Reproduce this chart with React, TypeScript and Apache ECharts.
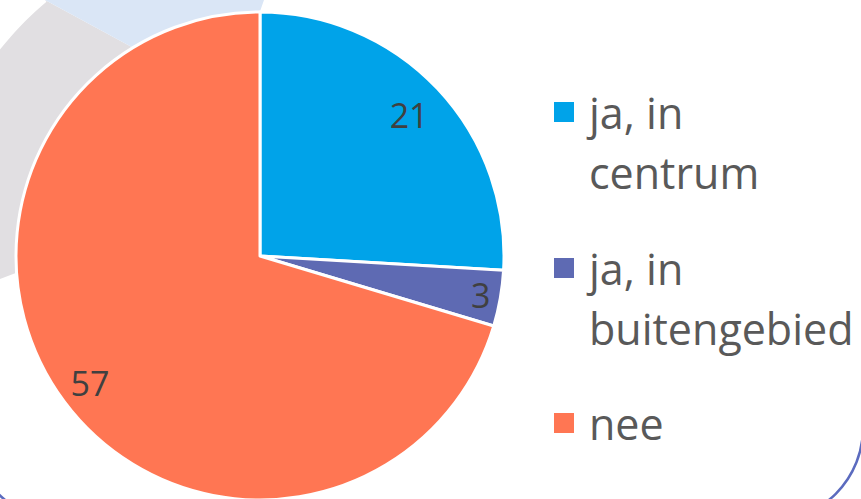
import React, { useEffect, useRef } from 'react';
import * as echarts from 'echarts';

const categories = ['ja, in centrum', 'ja, in buitengebied', 'nee'];
const values = [21, 3, 57];
const colors = ['#00a3e9', '#5e6ab3', '#ff7653'];
// inner/outer radius of the invisible ring on which each value label is centred
const labelRings: [number, number][] = [[160, 244], [198, 244], [174, 244]];
// top of each legend entry box
const legendTops = [22, 178, 393];

const CX = 260;
const CY = 256;
const R = 244;

function arcPoints(cx: number, cy: number, r: number, a0: number, a1: number, n: number) {
  const pts: number[][] = [];
  for (let i = 0; i <= n; i++) {
    const a = a0 + ((a1 - a0) * i) / n;
    pts.push([cx + r * Math.cos(a), cy + r * Math.sin(a)]);
  }
  return pts;
}

export default function App() {
  const ref = useRef<HTMLDivElement>(null);
  useEffect(() => {
    document.body.style.margin = '0';
    const chart = echarts.init(ref.current!, undefined, { renderer: 'svg' });

    // decorative background shapes
    const aStart = Math.atan2(0 - CY, 45 - CX);
    const grayArc = arcPoints(CX, CY, 332, aStart, -Math.PI, 40);
    const grayPoly = [...grayArc, [-80, 310], [0, 279], [200, 203], [200, 84], [45, 0]];
    const bluePoly = [[45, 0], [45, -20], [266, -20], [264, 0], [250, 40], [220, 110], [200, 84]];

    const labelSeries = labelRings.map((ring, i) => ({
      type: 'pie' as const,
      center: [CX, CY],
      radius: ring,
      startAngle: 90,
      clockwise: true,
      silent: true,
      z: 5,
      labelLine: { show: false },
      itemStyle: { color: 'transparent', borderWidth: 0 },
      data: categories.map((name, j) => ({
        name,
        value: values[j],
        label: { show: j === i },
      })),
      label: {
        position: 'inside',
        formatter: '{c}',
        fontSize: 34,
        fontFamily: 'Open Sans',
        color: '#404040',
      },
      emphasis: { disabled: true },
    }));

    const legends = categories.map((name, i) => ({
      orient: 'vertical',
      left: 552,
      top: legendTops[i],
      padding: 0,
      icon: 'rect',
      itemWidth: 22,
      itemHeight: 22,
      selectedMode: false,
      formatter: (n: string) => n.replace(/^(ja, in) (.*)$/, '\n$1\n$2'),
      data: [name],
      textStyle: {
        fontSize: 43,
        lineHeight: 60,
        color: '#595959',
        fontFamily: 'Open Sans',
        padding: [0, 0, 0, 9],
      },
    }));

    chart.setOption({
      animation: false,
      backgroundColor: '#ffffff',
      color: colors,
      graphic: [
        {
          type: 'rect',
          z: -10,
          shape: { x: -29, y: -200, width: 892, height: 721, r: 93 },
          style: { fill: 'none', stroke: '#5b6bbf', lineWidth: 2.5 },
          silent: true,
        },
        {
          type: 'polygon',
          z: -9,
          shape: { points: grayPoly },
          style: { fill: '#e1dfe2' },
          silent: true,
        },
        {
          type: 'polygon',
          z: -8,
          shape: { points: bluePoly },
          style: { fill: '#dae6f6' },
          silent: true,
        },
      ],
      legend: legends,
      series: [
        {
          type: 'pie',
          center: [CX, CY],
          radius: R,
          startAngle: 90,
          clockwise: true,
          z: 2,
          label: { show: false },
          labelLine: { show: false },
          itemStyle: { borderColor: '#ffffff', borderWidth: 3 },
          emphasis: { disabled: true },
          data: categories.map((name, i) => ({ name, value: values[i] })),
        },
        ...labelSeries,
      ],
    });
    return () => chart.dispose();
  }, []);
  return <div ref={ref} style={{ width: 861, height: 499 }} />;
}
